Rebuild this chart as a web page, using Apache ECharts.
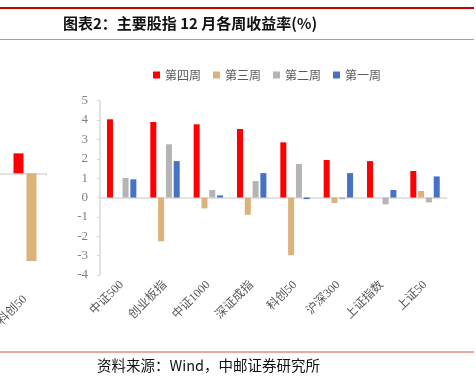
<!DOCTYPE html>
<html>
<head>
<meta charset="utf-8">
<script src="https://cdn.jsdelivr.net/npm/echarts@6/dist/echarts.min.js"></script>
<style>
html,body{margin:0;padding:0;background:#fff}
#main{width:476px;height:376px}
</style>
</head>
<body>
<div id="main"></div>
<script>
// 各指数
var categories = ['中证500', '创业板指', '中证1000', '深证成指', '科创50', '沪深300', '上证指数', '上证50'];
// 各周收益率(%)
var week4 = [4.04, 3.90, 3.78, 3.54, 2.85, 1.94, 1.88, 1.37];
var week3 = [0, -2.26, -0.56, -0.89, -2.98, -0.28, 0, 0.34];
var week2 = [1.01, 2.75, 0.39, 0.85, 1.73, -0.09, -0.35, -0.25];
var week1 = [0.94, 1.88, 0.11, 1.26, -0.08, 1.26, 0.39, 1.09];
var yMin = -4, yMax = 5, yStep = 1;

// 左边被截掉的另一张图，只剩最后一列
var leftCategories = ['', '科创50'];
var leftWeek4 = ['-', 1.03];
var leftWeek3 = ['-', -4.53];

var RED = '#ff0000', TAN = '#dcb27b', GRAY = '#b4b4b4', BLUE = '#4472c4';
var LINE = '#d9d9d9';
var labelFont = '"Liberation Serif", "Noto Sans CJK SC"';

var myChart = echarts.init(document.getElementById('main'), null, {renderer: 'canvas'});

var option = {
    backgroundColor: '#fff',
    animation: false,
    legend: {
        left: 148,
        top: 64,
        icon: 'rect',
        itemWidth: 7,
        itemHeight: 7,
        itemGap: 12,
        data: ['第四周', '第三周', '第二周', '第一周'],
        textStyle: {color: '#595959', fontSize: 12, fontFamily: '"Noto Sans CJK SC"'}
    },
    grid: [
        {left: 100, top: 100.7, width: 346.7, height: 174.3, outerBoundsMode: 'none'},
        {left: -38, top: 57.1, width: 84, height: 232.4, outerBoundsMode: 'none'}
    ],
    xAxis: [
        // 0轴上的线
        {
            gridIndex: 0, type: 'category', data: categories,
            axisLine: {onZero: true, lineStyle: {color: LINE, width: 1.5}},
            axisTick: {show: false},
            axisLabel: {show: false}
        },
        // 底部标签
        {
            gridIndex: 0, type: 'category', data: categories, position: 'bottom',
            axisLine: {show: false, onZero: false},
            axisTick: {show: false},
            axisLabel: {
                rotate: 45, margin: 8, interval: 0,
                color: '#595959', fontSize: 12, fontFamily: labelFont
            }
        },
        {
            gridIndex: 1, type: 'category', data: leftCategories,
            axisLine: {onZero: true, lineStyle: {color: LINE, width: 1.5}},
            axisTick: {show: true, length: 3, lineStyle: {color: LINE}},
            axisLabel: {show: false}
        },
        {
            gridIndex: 1, type: 'category', data: leftCategories, position: 'bottom',
            axisLine: {show: false, onZero: false},
            axisTick: {show: false},
            axisLabel: {
                rotate: 45, margin: 8, interval: 0,
                color: '#595959', fontSize: 12, fontFamily: labelFont
            }
        }
    ],
    yAxis: [
        {
            gridIndex: 0, type: 'value', min: yMin, max: yMax, interval: yStep,
            axisLine: {show: true, lineStyle: {color: LINE, width: 1.5}},
            axisTick: {show: true, length: 3, lineStyle: {color: LINE}},
            splitLine: {show: false},
            axisLabel: {color: '#808080', fontSize: 13, margin: 12, fontFamily: '"Liberation Serif"'}
        },
        {
            gridIndex: 1, type: 'value', min: -6, max: 6, show: false,
            splitLine: {show: false}
        }
    ],
    series: [
        {name: '第四周', type: 'bar', xAxisIndex: 0, yAxisIndex: 0, data: week4,
            barWidth: 6, barGap: '30%', itemStyle: {color: RED}},
        {name: '第三周', type: 'bar', xAxisIndex: 0, yAxisIndex: 0, data: week3,
            barWidth: 6, itemStyle: {color: TAN}},
        {name: '第二周', type: 'bar', xAxisIndex: 0, yAxisIndex: 0, data: week2,
            barWidth: 6, itemStyle: {color: GRAY}},
        {name: '第一周', type: 'bar', xAxisIndex: 0, yAxisIndex: 0, data: week1,
            barWidth: 6, itemStyle: {color: BLUE}},
        {name: '第四周', type: 'bar', xAxisIndex: 2, yAxisIndex: 1, data: leftWeek4,
            barWidth: 10, barGap: '30%', itemStyle: {color: RED}},
        {name: '第三周', type: 'bar', xAxisIndex: 2, yAxisIndex: 1, data: leftWeek3,
            barWidth: 10, itemStyle: {color: TAN}}
    ],
    graphic: [
        {type: 'line', shape: {x1: 0, y1: 8, x2: 474, y2: 8}, style: {stroke: '#c00000', lineWidth: 2}},
        {type: 'line', shape: {x1: 0, y1: 39.5, x2: 474, y2: 39.5}, style: {stroke: '#e48585', lineWidth: 1.2}},
        {type: 'line', shape: {x1: 0, y1: 352, x2: 474, y2: 352}, style: {stroke: '#e04848', lineWidth: 1}},
        {
            type: 'text', left: 63, top: 16,
            style: {
                text: '图表2：主要股指 12 月各周收益率(%)',
                fill: '#111', font: 'bold 15px "Noto Sans CJK SC"'
            }
        },
        {
            type: 'text', left: 97, top: 358,
            style: {
                text: '资料来源：Wind，中邮证券研究所',
                fill: '#111', font: '14.5px "Noto Sans CJK SC"'
            }
        }
    ]
};

myChart.setOption(option);
</script>
</body>
</html>
